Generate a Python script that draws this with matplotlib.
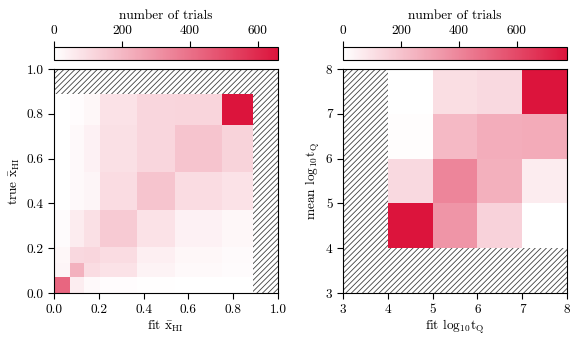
import numpy as np
import matplotlib
matplotlib.use("Agg")
import matplotlib.pyplot as plt
from matplotlib.colors import LinearSegmentedColormap
from matplotlib.patches import Rectangle

plt.rcParams['font.family'] = 'serif'
plt.rcParams['font.serif'] = ['cmr10']
plt.rcParams['mathtext.fontset'] = 'cm'
plt.rcParams['axes.formatter.use_mathtext'] = True
plt.rcParams['font.size'] = 9.6
plt.rcParams['hatch.linewidth'] = 0.6
plt.rcParams['hatch.color'] = '0.25'

# left panel: fit vs true neutral fraction (irregular bins)
xhi_edges = [0.0, 0.07, 0.135, 0.205, 0.37, 0.54, 0.75, 0.89]
# rows = true bins (bottom to top), columns = fit bins (left to right)
xhi_counts = [
    [430, 50, 20, 10, 5, 0, 0],
    [30, 220, 100, 80, 35, 18, 12],
    [25, 110, 115, 100, 45, 25, 15],
    [12, 55, 90, 150, 80, 40, 25],
    [0, 18, 30, 100, 165, 100, 85],
    [0, 18, 40, 90, 115, 165, 125],
    [0, 10, 25, 80, 115, 120, 660],
]
xhi_vmax = 660

# right panel: fit vs mean log10 tQ
tq_edges = [4, 5, 6, 7, 8]
tq_counts = [
    [773, 350, 150, 0],
    [125, 400, 260, 65],
    [8, 230, 270, 275],
    [0, 110, 125, 773],
]
tq_vmax = 773

cmap = LinearSegmentedColormap.from_list('wc', ['white', '#dc143c'])

fig = plt.figure(figsize=(5.81, 3.44), dpi=100)

panels = [
    dict(rect=[54/581, 51/344, 224/581, 224/344], edges=xhi_edges, counts=xhi_counts,
         vmax=xhi_vmax, lim=(0, 1), ticks=[0, 0.2, 0.4, 0.6, 0.8, 1.0], fmt='%.1f',
         xlabel=r'fit $\bar{\mathrm{x}}_{\mathrm{HI}}$', ylabel=r'true $\bar{\mathrm{x}}_{\mathrm{HI}}$',
         cticks=[0, 200, 400, 600]),
    dict(rect=[343/581, 51/344, 224/581, 224/344], edges=tq_edges, counts=tq_counts,
         vmax=tq_vmax, lim=(3, 8), ticks=[3, 4, 5, 6, 7, 8], fmt='%d',
         xlabel=r'fit $\mathrm{log}_{10}\mathrm{t}_{\mathrm{Q}}$',
         ylabel=r'mean $\mathrm{log}_{10}\mathrm{t}_{\mathrm{Q}}$',
         cticks=[0, 200, 400, 600]),
]

for p in panels:
    ax = fig.add_axes(p['rect'])
    lo, hi = p['lim']
    ax.add_patch(Rectangle((lo, lo), hi - lo, hi - lo, facecolor='white',
                           edgecolor='0.25', hatch='//////', linewidth=0, zorder=0))
    e = np.array(p['edges'], dtype=float)
    mesh = ax.pcolormesh(e, e, np.array(p['counts']), cmap=cmap, vmin=0,
                         vmax=p['vmax'], zorder=1)
    ax.set_xlim(lo, hi)
    ax.set_ylim(lo, hi)
    ax.set_xticks(p['ticks'])
    ax.set_yticks(p['ticks'])
    ax.set_xticklabels([p['fmt'] % t for t in p['ticks']])
    ax.set_yticklabels([p['fmt'] % t for t in p['ticks']])
    ax.set_xlabel(p['xlabel'], labelpad=2)
    ax.set_ylabel(p['ylabel'], labelpad=3)
    ax.tick_params(direction='out', length=4, width=0.8)

    r = p['rect']
    cax = fig.add_axes([r[0], 284/344, r[2], 13/344])
    cb = fig.colorbar(mesh, cax=cax, orientation='horizontal')
    cb.set_ticks(p['cticks'])
    cb.set_ticklabels([str(t) for t in p['cticks']])
    cax.xaxis.set_ticks_position('top')
    cax.xaxis.set_label_position('top')
    cb.set_label('number of trials')
    cax.tick_params(direction='out', length=4, width=0.8)
    cb.outline.set_linewidth(0.8)

fig.savefig('out.png', dpi=100)
